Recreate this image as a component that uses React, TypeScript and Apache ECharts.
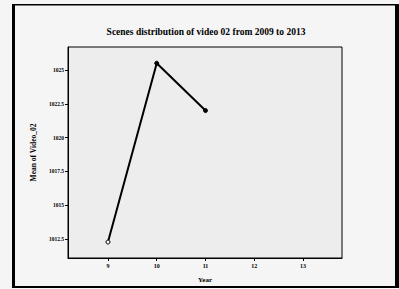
import React, { useEffect, useRef } from "react";
import * as echarts from "echarts";

const years = [9, 10, 11];
const meanValues = [1012.28, 1025.5, 1022.0];
const xTicks = [9, 10, 11, 12, 13];
const yTicks = [1012.5, 1015, 1017.5, 1020, 1022.5, 1025];
const titleText = "Scenes distribution of video 02 from 2009 to 2013";

export default function App() {
  const ref = useRef<HTMLDivElement>(null);
  useEffect(() => {
    document.body.style.margin = "0";
    const chart = echarts.init(ref.current!, undefined, { renderer: "svg" });
    const font = "'Liberation Serif', 'Times New Roman', serif";
    chart.setOption({
      animation: false,
      backgroundColor: "#f5f5f5",
      title: {
        text: titleText,
        left: 201,
        textAlign: "center",
        top: 22,
        textStyle: { fontFamily: font, fontWeight: "bold", fontSize: 9.5, color: "#000" },
      },
      grid: {
        left: 68,
        right: 57,
        top: 47,
        bottom: 31,
        show: true,
        backgroundColor: "#ededed",
        borderColor: "#000",
        borderWidth: 1,
      },
      xAxis: {
        type: "value",
        min: 8.18,
        max: 13.8,
        name: "Year",
        nameLocation: "middle",
        nameGap: 18,
        nameTextStyle: { fontFamily: font, fontWeight: "bold", fontSize: 7, color: "#000" },
        axisLine: { show: true, lineStyle: { color: "#000", width: 1 } },
        axisTick: { show: true, length: 3, customValues: xTicks, lineStyle: { color: "#000" } },
        axisLabel: {
          customValues: xTicks,
          formatter: (v: number) => String(v),
          fontFamily: font,
          fontSize: 6,
          fontWeight: "bold",
          color: "#000",
          margin: 5,
        },
        splitLine: { show: false },
      },
      yAxis: {
        type: "value",
        min: 1011.1,
        max: 1026.7,
        name: "Mean of Video_02",
        nameLocation: "middle",
        nameGap: 29,
        nameRotate: 90,
        nameTextStyle: { fontFamily: font, fontWeight: "bold", fontSize: 7.5, color: "#000" },
        axisLine: { show: true, lineStyle: { color: "#000", width: 1 } },
        axisTick: { show: true, length: 3, customValues: yTicks, lineStyle: { color: "#000" } },
        axisLabel: {
          customValues: yTicks,
          formatter: (v: number) => String(v),
          fontFamily: font,
          fontSize: 5.5,
          fontWeight: "bold",
          color: "#000",
          margin: 4,
        },
        splitLine: { show: false },
      },
      series: [
        {
          type: "line",
          data: years.map((y, i) => ({
            value: [y, meanValues[i]],
            itemStyle: i === 0 ? { color: "#fff", borderColor: "#000", borderWidth: 1 } : { color: "#000", borderColor: "#000" },
          })),
          symbol: "circle",
          symbolSize: 4,
          showSymbol: true,
          lineStyle: { color: "#000", width: 2 },
        },
      ],
      graphic: [
        { type: "rect", shape: { x: 12, y: 4, width: 3, height: 284 }, style: { fill: "#000" } },
        { type: "rect", shape: { x: 12, y: 4, width: 387, height: 1.5 }, style: { fill: "#000" } },
        { type: "rect", shape: { x: 395, y: 4, width: 4, height: 284 }, style: { fill: "#000" } },
        { type: "rect", shape: { x: 12, y: 286, width: 387, height: 2 }, style: { fill: "#000" } },
      ],
    });
    return () => chart.dispose();
  }, []);
  return <div ref={ref} style={{ width: 399, height: 289 }} />;
}
